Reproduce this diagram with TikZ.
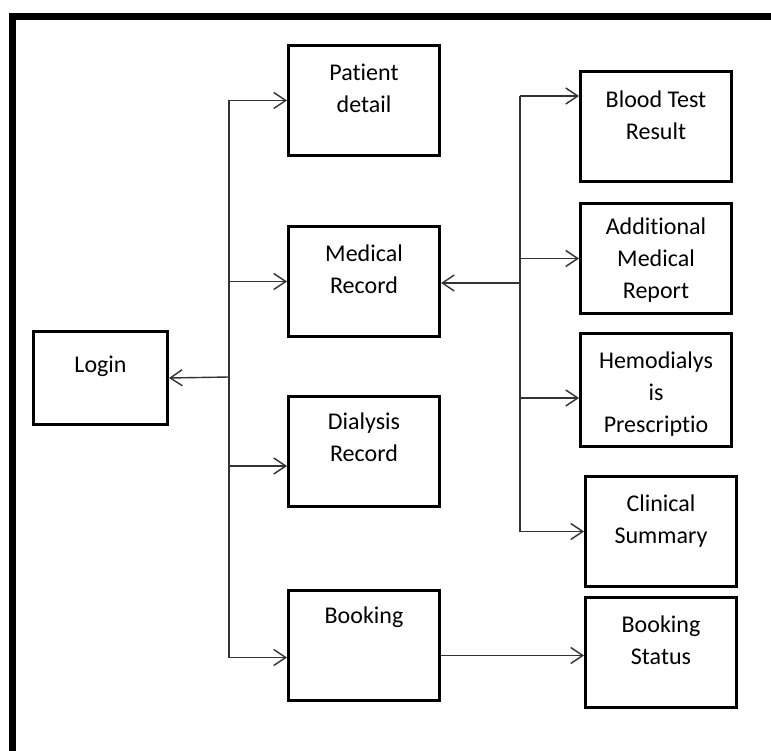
\documentclass[tikz,border=0pt]{standalone}
\usepackage{fontspec}
\setmainfont{Carlito}[RawFeature=-liga]
\usetikzlibrary{arrows.meta,calc}

\begin{document}
\begin{tikzpicture}[x=1pt,y=-1pt,
  box/.style={draw,line width=3pt,minimum width=151pt,minimum height=110pt,inner sep=0pt},
  txt/.style={align=center,inner sep=0pt,anchor=north,font=\fontsize{24}{32}\selectfont},
  link/.style={draw=black!80,line width=1.4pt},
  arr/.style={link,-{Straight Barb[length=12pt,width=16pt,line width=1.4pt]}}]
  \useasboundingbox (0,0) rectangle (771,751);
  %FRAME
  \draw[line width=7pt] (12.5,751) -- (12.5,16.5) -- (771,16.5);
  %LOGIN et MENU
  \node[box,minimum width=134pt,minimum height=93pt] (log) at (100.5,378) {};
  \node[txt] (logT) at ([yshift=-26pt]log.north) {Login};
  \node[box] (pat) at (364,100.5) {};
  \node[txt] (patT) at ([yshift=-20pt]pat.north) {Patient\\detail};
  \node[box] (med) at (364,281.5) {};
  \node[txt] (medT) at ([yshift=-20pt]med.north) {Medical\\Record};
  \node[box] (dia) at (364,451) {};
  \node[txt] (diaT) at ([yshift=-18pt]dia.north) {Dialysis\\Record};
  \node[box] (boo) at (364,645.5) {};
  \node[txt] (booT) at ([yshift=-18pt]boo.north) {Booking};
  %MEDICAL RECORD
  \node[box] (blo) at (656,127) {};
  \node[txt] (bloT) at ([yshift=-20pt]blo.north) {Blood Test\\Result};
  \node[box] (add) at (656,258.5) {};
  \node[txt] (addT) at ([yshift=-16pt]add.north) {Additional\\Medical\\Report};
  \node[box,minimum height=113pt] (hem) at (656,390) {};
  \node[txt] (hemT) at ([yshift=-20pt]hem.north) {Hemodialys\\is\\Prescriptio};
  \node[box] (cli) at (661,531.5) {};
  \node[txt] (cliT) at ([yshift=-20pt]cli.north) {Clinical\\Summary};
  \node[box] (bst) at (661,652.5) {};
  \node[txt] (bstT) at ([yshift=-20pt]bst.north) {Booking\\Status};
  %LEFT TRUNK
  \coordinate (jL) at (229,377);
  \coordinate (diaIn) at ([yshift=-15pt]dia.west);
  \coordinate (booIn) at ([yshift=-12pt]boo.west);
  \draw[link] (jL |- pat.west) -- (jL |- booIn);
  \draw[arr] (jL) -- (log.east);
  \draw[arr] (jL |- pat.west) -- (pat.west);
  \draw[arr] (jL |- med.west) -- (med.west);
  \draw[arr] (jL |- diaIn) -- (diaIn);
  \draw[arr] (jL |- booIn) -- (booIn);
  %RIGHT TRUNK
  \coordinate (jR) at (520,283);
  \coordinate (bloIn) at ([yshift=31pt]blo.west);
  \coordinate (hemIn) at ([yshift=-8pt]hem.west);
  \draw[link] (jR |- bloIn) -- (jR |- cli.west);
  \draw[arr] (jR) -- (jR -| med.east);
  \draw[arr] (jR |- bloIn) -- (bloIn);
  \draw[arr] (jR |- add.west) -- (add.west);
  \draw[arr] (jR |- hemIn) -- (hemIn);
  \draw[arr] (jR |- cli.west) -- (cli.west);
  %BOOKING
  \coordinate (booOut) at ([yshift=-10pt]boo.east);
  \draw[arr] (booOut) -- (booOut -| bst.west);
\end{tikzpicture}
\end{document}
